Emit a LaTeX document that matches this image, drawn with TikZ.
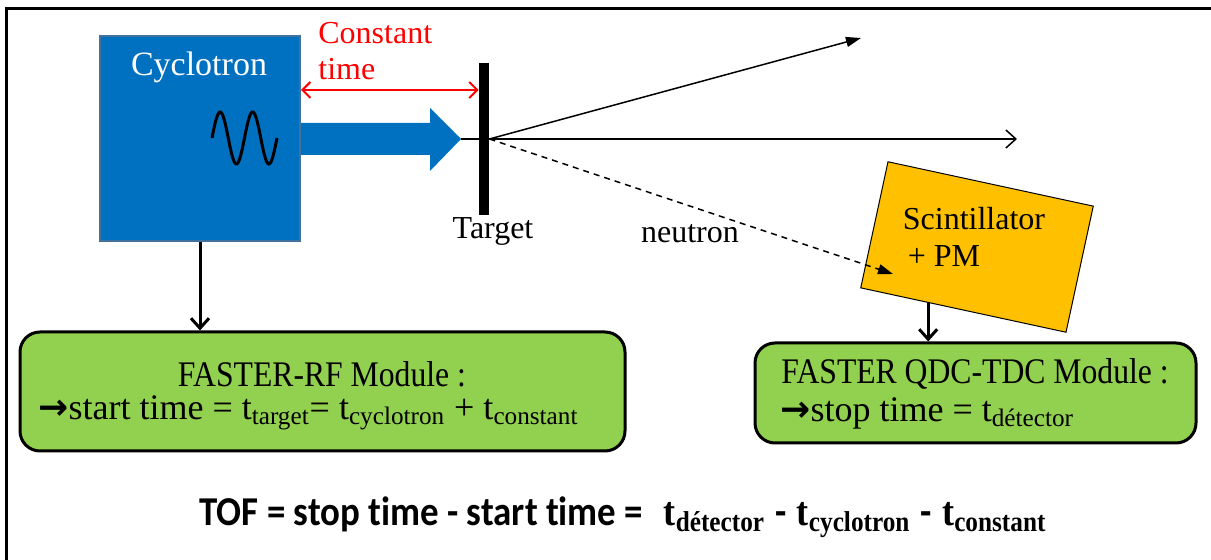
\documentclass[tikz,border=0pt]{standalone}
\usepackage{fontspec}
\setmainfont{Liberation Serif}
\newfontfamily\narrowfont[FakeStretch=0.88]{Liberation Serif}
\newfontfamily\tofsans[FakeStretch=0.9,Ligatures=NoCommon]{Carlito}
\newfontfamily\arrowfont{DejaVu Sans}
\usetikzlibrary{arrows.meta,calc}

\definecolor{cycblue}{HTML}{0070C0}
\definecolor{cycedge}{HTML}{41719C}
\definecolor{modgreen}{HTML}{92D050}
\definecolor{scigold}{HTML}{FFC000}

\newcommand{\impl}{{\arrowfont\bfseries →}}

\begin{document}
\begin{tikzpicture}[x=0.5pt,y=-0.5pt,
    lbl/.style={font=\fontsize{16}{18}\selectfont},
    module/.style={draw,line width=1.5pt,fill=modgreen,rounded corners=10pt},
    modtext/.style={font=\narrowfont\fontsize{18}{20}\selectfont,inner sep=1pt},
    modline/.style={font=\fontsize{18}{20}\selectfont,inner sep=1pt,anchor=west},
    wire/.style={line width=1.5pt,-{Straight Barb[length=5pt,width=9pt]}},
    ray/.style={line width=0.75pt}]

  \useasboundingbox (0,0) rectangle (1211,560);
  % frame
  \draw[line width=1.5pt] (6,570) -- (6,9) -- (1220,9);

  % cyclotron and beam
  \node (cyc) [draw=cycedge,fill=cycblue,line width=1pt,minimum width=100pt,minimum height=102.5pt] at (200,138.5) {};
  \node (cyclbl) [lbl,text=white,font=\fontsize{17}{19}\selectfont] at (199,67) {Cyclotron};
  \draw[line width=1.5pt] plot[domain=212:277,samples=80,smooth] (\x,{138-26*sin((\x-212)*11.077)});
  \fill[cycblue] (cyc.east |- 0,123) -- (430,123) -- (430,108) -- (461,139) coordinate (tip)
    -- (430,171) -- (430,155) -- (cyc.east |- 0,155) -- cycle;

  % rays out of the target
  \coordinate (fwd) at (1017,139);
  \coordinate (up) at (861,38);
  \draw[ray,-{Straight Barb[length=5pt,width=9pt]}] (tip) -- (fwd);
  \node (tgt) [fill=black,minimum width=5pt,minimum height=76pt,inner sep=0pt] at (484,139) {};
  \node (tgtlbl) [lbl] at (493,231) {Target};
  \draw[ray,-{Triangle[length=7.5pt,width=5pt]}] (tgt.east) -- (up);

  % constant time
  \draw[red,line width=1pt,{Straight Barb[length=4pt,width=8pt]}-{Straight Barb[length=4pt,width=8pt]}]
    (cyc.east |- 0,90) -- (tgt.west |- 0,90);
  \node (ct) [lbl,text=red,align=left,anchor=north west,inner sep=0pt] at (318,22) {Constant\\time};

  % detector
  \node (sci) [draw,fill=scigold,line width=0.5pt,rotate=-12.2,minimum width=105pt,minimum height=64.5pt] at (977,247) {};
  \node (scilbl) [lbl] at (974,219) {Scintillator};
  \node (pmlbl) [lbl] at (944,256) {+ PM};
  \draw[ray,dashed,dash pattern=on 3pt off 2.5pt,-{Triangle[length=7.5pt,width=5pt]}] (tgt.east) -- (893,274) coordinate (hit);
  \node (neu) [lbl] at (690,234) {neutron};

  % acquisition modules
  \node (rfmod) [module,minimum width=302.5pt,minimum height=59.5pt] at (322.5,391.5) {};
  \node (rfhead) [modtext] at (322,374) {FASTER-RF Module :};
  \node (rfline) [modline] at (36,413) {\impl start time = t\textsubscript{target}= t\textsubscript{cyclotron} + t\textsubscript{constant}};

  \node (qdcmod) [module,minimum width=220.5pt,minimum height=50pt] at (975.5,393) {};
  \node (qdchead) [modtext] at (975,374) {FASTER QDC-TDC Module :};
  \node (qdcline) [modline] at (778,413) {\impl stop time = t\textsubscript{détector}};

  \draw[wire] (cyc.south) -- (cyc.south |- rfmod.north);
  \coordinate (pm) at ($(sci.south west)!0.33!(sci.south east)$);
  \draw[wire] (pm) -- (pm |- qdcmod.north);

  % time of flight
  \node (tof) [font=\fontsize{20.5}{23}\selectfont\bfseries] at (623,517)
    {{\tofsans TOF = stop time - start time =}\ \ {\narrowfont t\textsubscript{détector}} {\tofsans -} {\narrowfont t\textsubscript{cyclotron}} {\tofsans -} {\narrowfont t\textsubscript{constant}}};

\end{tikzpicture}
\end{document}
